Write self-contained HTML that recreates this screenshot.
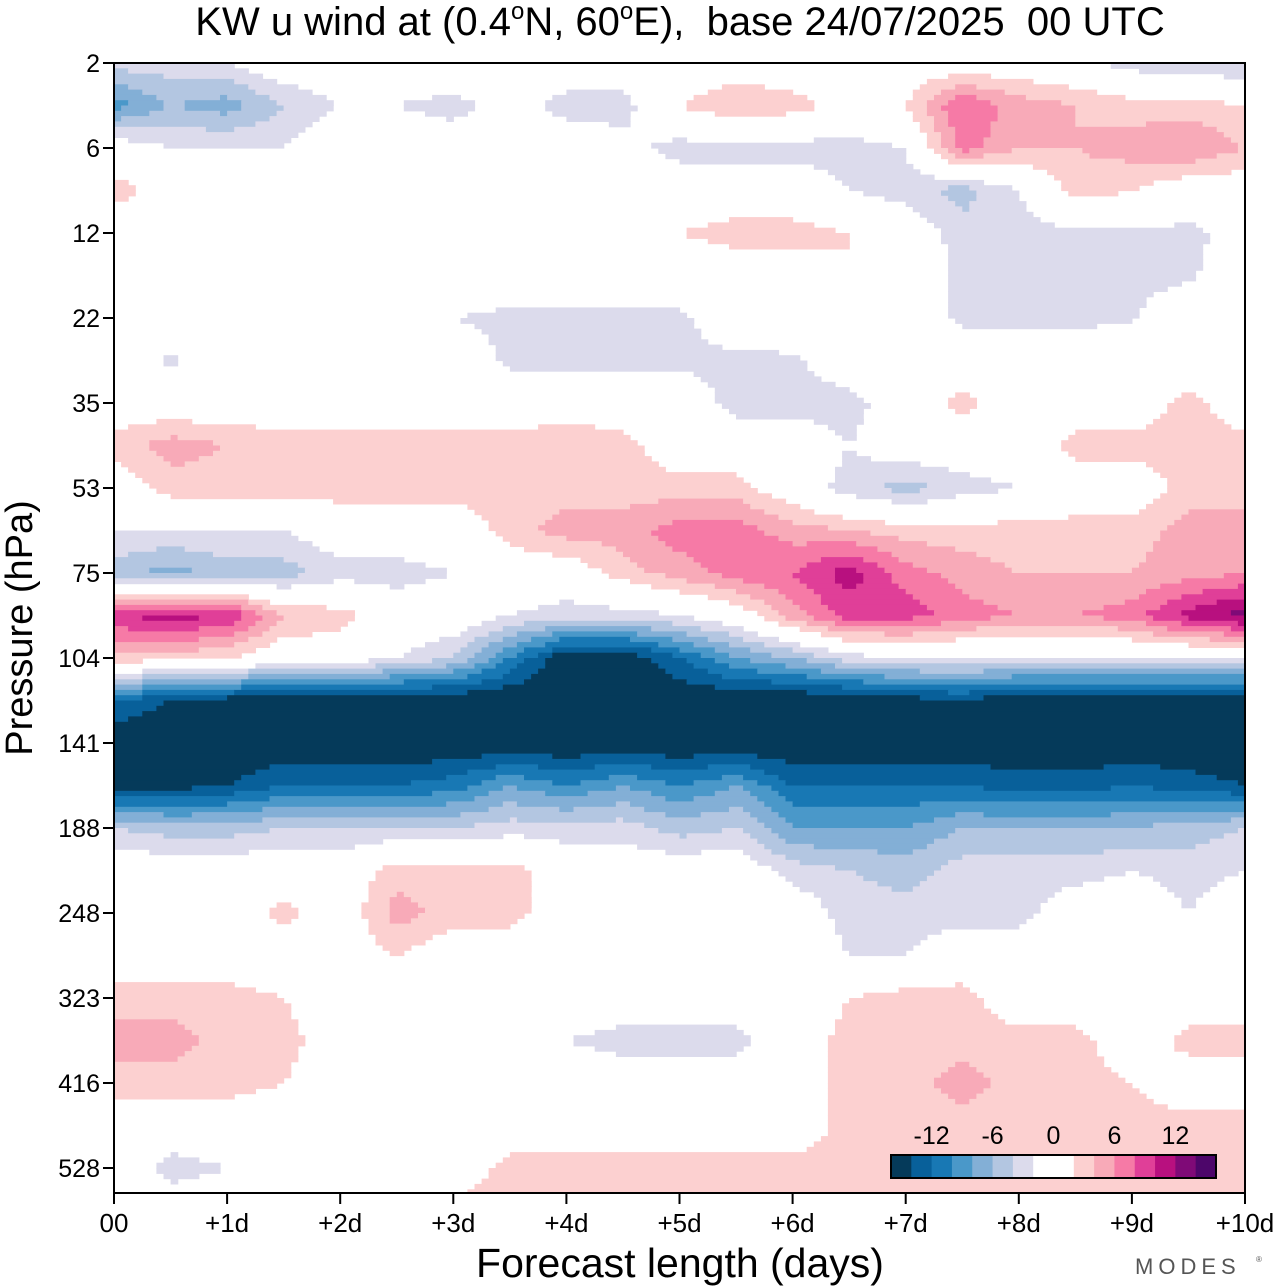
<!DOCTYPE html>
<html><head><meta charset="utf-8"><style>
html,body{margin:0;padding:0;background:#fff;width:1280px;height:1286px;overflow:hidden}
svg text{font-family:"Liberation Sans",sans-serif}
</style></head><body>
<svg id="chart" width="1280" height="1286" xmlns="http://www.w3.org/2000/svg">
<text x="680" y="35" font-size="40" text-anchor="middle" style="white-space:pre">KW u wind at (0.4<tspan font-size="24" dy="-16">o</tspan><tspan dy="16">N, 60</tspan><tspan font-size="24" dy="-16">o</tspan><tspan dy="16">E),  base 24/07/2025  00 UTC</tspan></text>
<defs><clipPath id="pc"><rect x="114" y="63" width="1131" height="1130"/></clipPath></defs>
<g id="field" clip-path="url(#pc)"></g>
<rect x="114" y="63" width="1131" height="1130" fill="none" stroke="#000" stroke-width="2"/>
<g id="yaxis"></g>
<g id="xaxis"></g>
<text transform="translate(32,628) rotate(-90)" font-size="38" text-anchor="middle">Pressure (hPa)</text>
<text x="680" y="1277" font-size="41" text-anchor="middle">Forecast length (days)</text>
<g id="legend"></g>
<text x="1135" y="1274" font-size="22" fill="#555" letter-spacing="5">MODES</text>
<text x="1256" y="1262" font-size="8" fill="#555">®</text>
</svg>
<script>
const dayTicks=["00","+1d","+2d","+3d","+4d","+5d","+6d","+7d","+8d","+9d","+10d"];
const pressureTicks=["2","6","12","22","35","53","75","104","141","188","248","323","416","528"];
const levelBounds=[-16,-14,-12,-10,-8,-6,-4,-2,0,2,4,6,8,10,12,14,16];
const levelColors=["#053a5a","#08609a","#1878b4","#4a98c9","#83afd6","#b3c6e1","#dcdbec","#ffffff","#ffffff","#fcd0d0","#f8aab8","#f67aa6","#e03f98","#b8107f","#7f0a77","#4d066a"];
const leadDays=[0,0.5,1,1.5,2,2.5,3,3.5,4,4.5,5,5.5,6,6.5,7,7.5,8,8.5,9,9.5,10];
const levelIndex=[0,0.5,1,1.5,2,2.5,3,3.5,4,4.5,5,5.5,6,6.5,7,7.5,8,8.5,9,9.5,10,10.5,11,11.5,12,12.5,13,13.5];
const uWind=[
[-3,-3,-2,0,0,0,1,1,0,0,0,0,0,0,0,0,0,-1,-3,-4,-4],
[-9,-6,-7,-4,-2,-2,-3,-1,-3,-3,2,4,3,1,2,8,5,4,3,3,2],
[0,-2,-2,-2,0,0,0,0,0,-1,-3,-3,-3,-3,-2,7,4,4,5,6,4],
[3,1,0,0,0,0,0,-2,0,0,0,0,0,-2,-3,-5,-2,3,2,0,0],
[0,0,0,0,0,0,-2,0,0,0,2,3,3,2,0,-3,-3,-2.6,-2.6,-2.6,-1],
[0,0,0,0,0,0,0,0,0,0,0,0,0,2,0,-2.6,-2.6,-2.6,-2.6,-2.4,0],
[0,0,0,0,0,0,-2,-2.6,-2.6,-2.6,-2.6,0,0,0,0,-2.6,-2.6,-2.6,-2.2,0,0],
[0,-2.6,0,0,0,0,0,-2.6,-2.6,-2.6,-2.6,-2.6,-2.4,0,0,0,0,0,0,0,0],
[0,0,0,0,0,0,0,0,0,0,0,-3,-3,-3,0,3,0,0,0,3,0],
[3,5,4,3,3,3,3,3,4,3,0,0,0,-2,0,0,0,3,3,3,3],
[0,3,3,3,3,3,3,3,3,3,3,3,0,-3,-5,-3,-2,0,0,3,3],
[-2,-2,-2,-2,0,0,0,3,5,5,7,7,5,4,3,3,3,3,3,5,5],
[-5,-7,-5,-5,-3,-3,-2,0,0,3,5,7,8,11,7,5,4,4,4,5,6],
[10,11,10,4,3,0,0,-2,-3,-3,-2,0,5,9,9,7,6,6,7,11,13],
[3,3,2,0,0,-2,-4,-10,-16,-16,-12,-8,-6,-3,-2,-2,-2,-2,-2,-2,-2],
[-12,-14,-15,-16,-16,-16,-16,-16,-16,-16,-16,-16,-16,-16,-15,-14,-16,-16,-16,-16,-16],
[-16,-16,-16,-16,-16,-16,-16,-16,-16,-16,-16,-16,-16,-16,-16,-16,-16,-16,-16,-16,-16],
[-15,-15,-14,-12,-12,-12,-11,-8,-10,-8,-10,-8,-12,-12,-12,-12,-13,-13,-12,-13,-14],
[-4,-5,-5,-4,-4,-4,-4,-3,-3,-3,-5,-4,-8,-8,-8,-6,-6,-6,-6,-5,-4],
[0,0,0,0,0,3,3,3,0,0,0,0,-3,-4,-5,-3,-3,-3,-2,-3,-2],
[0,0,0,3,0,5,3,3,0,0,0,0,0,-3,-3,-3,-3,0,0,-2,0],
[0,0,0,0,0,2,0,0,0,0,0,0,0,-2,-2,0,0,0,0,0,0],
[3,3,3,2,0,0,0,0,0,0,0,0,0,2,3,3,0,0,0,0,0],
[5,5,3,3,0,0,0,0,-2,-3,-3,-3,0,3,3,3,3,3,0,3,3],
[3,3,3,2,0,0,0,0,0,0,0,0,0,3,3,5,3,3,2,0,0],
[0,0,0,0,0,0,0,0,0,0,0,0,0,3,3,3,3,3,3,3,3],
[0,-3,-2,0,0,0,0,3,3,3,3,3,3,3,3,3,3,3,2,2,2],
[0,0,0,0,0,2,3,3,4,3,4,3,3,3,3,3,3,3,2,2,2]
];
const NS="http://www.w3.org/2000/svg";
const X0=114,X1=1245,Y0=63,ROWH=85;
function xScale(d){return X0+(X1-X0)*d/10;}
function yScale(i){return Y0+ROWH*i;}
function colorFor(v){
  for(let k=0;k<levelColors.length;k++){if(v<levelBounds[k+1])return levelColors[k];}
  return levelColors[levelColors.length-1];
}
function mk(tag,attrs){const e=document.createElementNS(NS,tag);for(const k in attrs)e.setAttribute(k,attrs[k]);return e;}
const field=document.getElementById('field');
const SUB=8;
const nC=leadDays.length,nR=levelIndex.length;
for(let r=0;r<nR-1;r++){
  for(let s=0;s<SUB;s++){
    const fy=(s+0.5)/SUB;
    const yi=levelIndex[r]+(levelIndex[r+1]-levelIndex[r])*s/SUB;
    const yTop=yScale(yi),yBot=yScale(levelIndex[r]+(levelIndex[r+1]-levelIndex[r])*(s+1)/SUB);
    if(yTop>1195)continue;
    let runStart=null,runCol=null;
    const pts=[];
    for(let c=0;c<nC-1;c++){
      for(let t=0;t<SUB;t++){
        const fx=(t+0.5)/SUB;
        const v=(1-fy)*((1-fx)*uWind[r][c]+fx*uWind[r][c+1])+fy*((1-fx)*uWind[r+1][c]+fx*uWind[r+1][c+1]);
        const d0=leadDays[c]+(leadDays[c+1]-leadDays[c])*t/SUB;
        pts.push([d0,colorFor(v)]);
      }
    }
    pts.push([10,null]);
    for(let p=0;p<pts.length;p++){
      const col=pts[p][1];
      if(col!==runCol){
        if(runCol&&runCol!=="#ffffff"){
          const x=xScale(runStart),w=xScale(pts[p][0])-x;
          const rect=mk('rect',{x:x.toFixed(1),y:yTop.toFixed(1),width:(w+0.6).toFixed(1),height:(yBot-yTop+0.6).toFixed(1),fill:runCol});
          
          
          field.appendChild(rect);
        }
        runStart=pts[p][0];runCol=col;
      }
    }
  }
}
const ya=document.getElementById('yaxis');
pressureTicks.forEach((lab,i)=>{
  const y=yScale(i);
  const t=mk('line',{x1:103,x2:114,y1:y,y2:y,stroke:'#000','stroke-width':2});
  
  
  ya.appendChild(t);
  const tx=mk('text',{x:100,y:y+9,'font-size':25,'text-anchor':'end'});
  
  
  tx.textContent=lab;ya.appendChild(tx);
});
const xa=document.getElementById('xaxis');
dayTicks.forEach((lab,i)=>{
  const x=xScale(i);
  const t=mk('line',{x1:x,x2:x,y1:1193,y2:1204,stroke:'#000','stroke-width':2});
  
  
  xa.appendChild(t);
  const tx=mk('text',{x:x,y:1232,'font-size':26,'text-anchor':'middle'});
  
  
  tx.textContent=lab;xa.appendChild(tx);
});
const lg=document.getElementById('legend');
const LX=891,LW=325/levelColors.length;
levelColors.forEach((c,k)=>{
  const r=mk('rect',{x:LX+k*LW,y:1155,width:LW+0.5,height:23,fill:c});
  
  
  lg.appendChild(r);
});
const fr=mk('rect',{x:LX,y:1155,width:325,height:23,fill:'none',stroke:'#000','stroke-width':2});


lg.appendChild(fr);
const legendLabels=[-12,-6,0,6,12];
legendLabels.forEach(v=>{
  const k=levelBounds.indexOf(v);
  const tx=mk('text',{x:LX+k*LW,y:1144,'font-size':25,'text-anchor':'middle'});
  
  
  tx.textContent=String(v);lg.appendChild(tx);
});
</script>
</body></html>
